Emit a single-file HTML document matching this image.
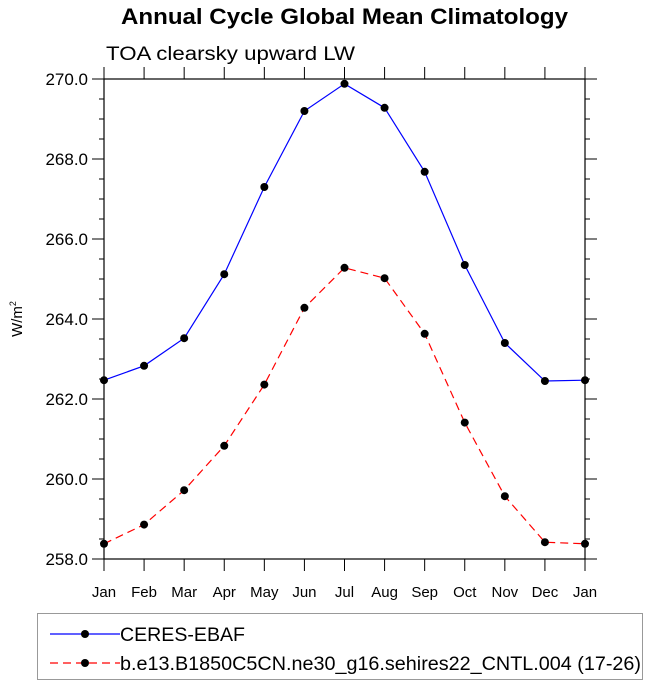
<!DOCTYPE html>
<html><head><meta charset="utf-8"><style>
body{margin:0;background:#fff}
svg{display:block;font-family:"Liberation Sans",Arial,sans-serif}
</style></head><body>
<svg id="chart" width="648" height="686">
<text x="121" y="24" font-size="22" font-weight="bold" textLength="447" lengthAdjust="spacingAndGlyphs">Annual Cycle Global Mean Climatology</text>
<text x="106" y="60" font-size="19" textLength="249" lengthAdjust="spacingAndGlyphs">TOA clearsky upward LW</text>
<text transform="translate(22,319) rotate(-90)" font-size="15" text-anchor="middle">W/m<tspan font-size="9" dy="-6">2</tspan></text>
<g id="axes"></g>
<g id="series"></g>
<g>
<rect x="37.5" y="613.5" width="605" height="66" fill="none" stroke="#999"/>
<g>
<line x1="50" y1="634" x2="120" y2="634" stroke="#00f" stroke-width="1.2"/>
<circle cx="85" cy="634" r="4" fill="#000"/>
<text x="120" y="641" font-size="19" textLength="125" lengthAdjust="spacingAndGlyphs">CERES-EBAF</text></g>
<g>
<line x1="50" y1="663" x2="120" y2="663" stroke="#f00" stroke-width="1.2" stroke-dasharray="8,5"/>
<circle cx="85" cy="663" r="4" fill="#000"/>
<text x="120" y="670" font-size="19" textLength="521" lengthAdjust="spacingAndGlyphs">b.e13.B1850C5CN.ne30_g16.sehires22_CNTL.004 (17-26)</text></g>
</g>
</svg>
<script>
const months=["Jan","Feb","Mar","Apr","May","Jun","Jul","Aug","Sep","Oct","Nov","Dec","Jan"];
const ceresValues=[262.47,262.83,263.52,265.12,267.3,269.2,269.88,269.28,267.68,265.35,263.4,262.45,262.47];
const modelValues=[258.38,258.86,259.72,260.83,262.36,264.28,265.28,265.02,263.63,261.41,259.57,258.42,258.38];
const yTicks=[258,260,262,264,266,268,270];
const yMin=258,yMax=270;
const L=104,R=585,T=79,B=559;
const NS="http://www.w3.org/2000/svg";
function xs(i){return L+(R-L)*i/(months.length-1);}
function ys(v){return B-(v-yMin)/(yMax-yMin)*(B-T);}
function mk(tag,attrs,parent){const e=document.createElementNS(NS,tag);for(const k in attrs)e.setAttribute(k,attrs[k]);parent.appendChild(e);return e;}
const ax=document.getElementById('axes');
const frame=mk('rect',{x:L,y:T,width:R-L,height:B-T,fill:'none',stroke:'#000','stroke-width':1.2},ax);


months.forEach((m,i)=>{
  const x=xs(i);
  mk('line',{x1:x,y1:B,x2:x,y2:B+12,stroke:'#000'},ax);
  mk('line',{x1:x,y1:T,x2:x,y2:T-12,stroke:'#000'},ax);
  const t=mk('text',{x:x,y:B+38,'font-size':15,'text-anchor':'middle'},ax);
  t.textContent=m;
  
  
});
for(let v=yMin;v<=yMax+1e-9;v+=0.5){
  const y=ys(v);const major=Math.abs(v%2)<1e-9;const len=major?12:5;
  mk('line',{x1:L,y1:y,x2:L-len,y2:y,stroke:'#000'},ax);
  mk('line',{x1:R,y1:y,x2:R+len,y2:y,stroke:'#000'},ax);
}
yTicks.forEach(v=>{
  const t=mk('text',{x:88,y:ys(v)+6,'font-size':17,'text-anchor':'end'},ax);
  t.textContent=v.toFixed(1);
  
  
});
const sg=document.getElementById('series');
function draw(vals,color,dash,name){
  const g=mk('g',{},sg);
  
  
  const p=mk('polyline',{points:vals.map((v,i)=>xs(i)+','+ys(v)).join(' '),fill:'none',stroke:color,'stroke-width':1.2},g);
  if(dash)p.setAttribute('stroke-dasharray',dash);
  vals.forEach((v,i)=>{
    const c=mk('circle',{cx:xs(i),cy:ys(v),r:4,fill:'#000'},g);
    
    
  });
}
draw(ceresValues,'#00f',null,'series-ceres');
draw(modelValues,'#f00','8,5','series-model');
</script>
</body></html>
